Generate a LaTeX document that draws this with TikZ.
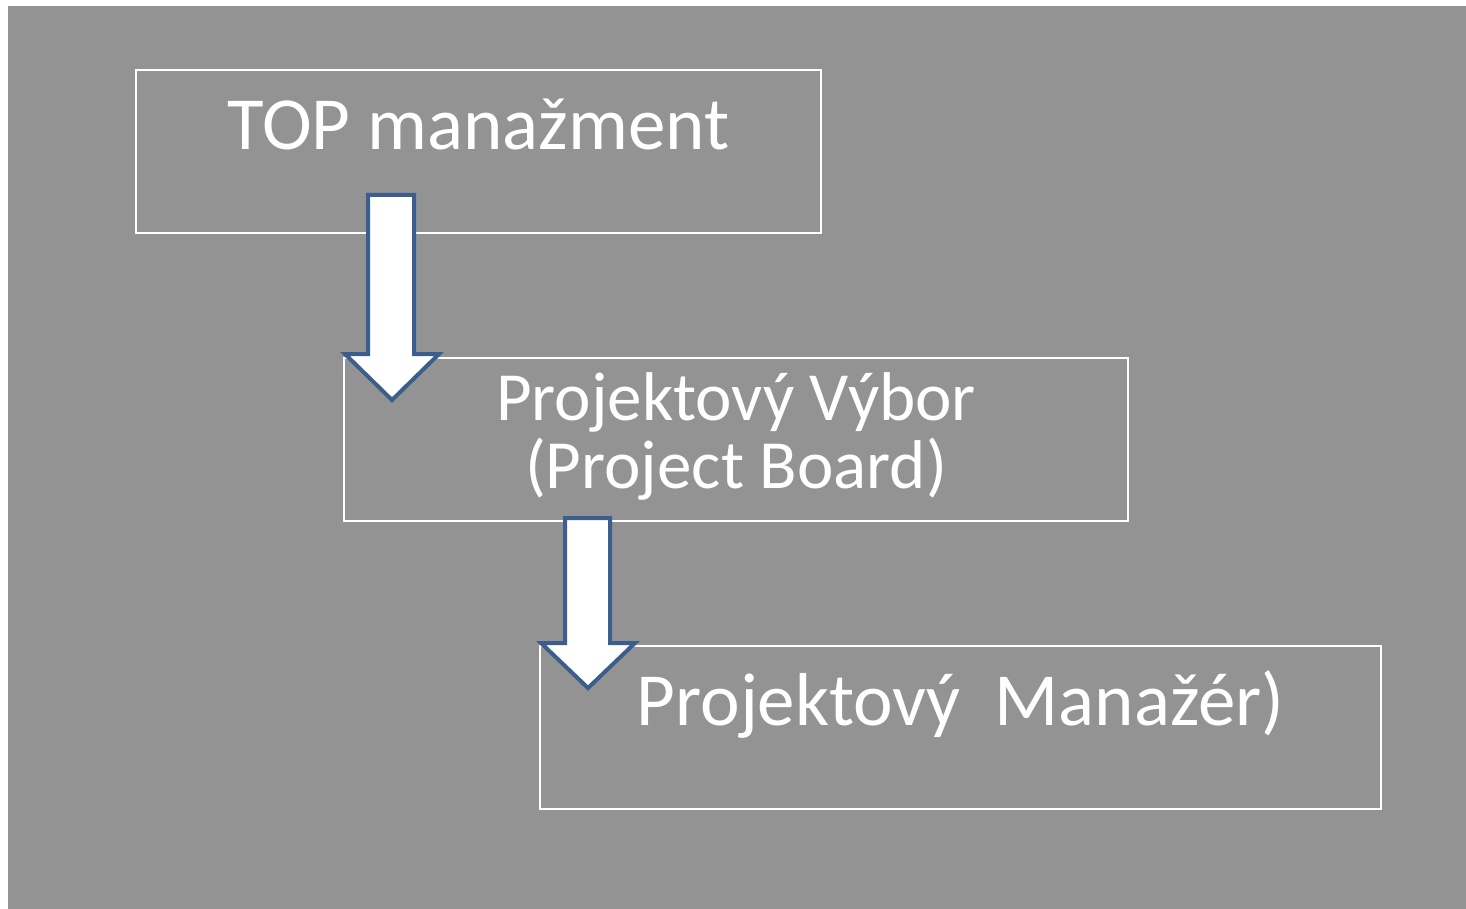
\documentclass[tikz,border=0pt]{standalone}
\usepackage{fontspec}
\setmainfont{Carlito}
\usetikzlibrary{positioning}
\definecolor{slidegray}{RGB}{147,147,147}
\definecolor{arrowblue}{RGB}{59,94,140}

\begin{document}
\begin{tikzpicture}[x=1pt,y=-1pt,
				   box/.style={draw=white, line width=1.5pt, inner sep=0pt, outer sep=0pt, anchor=north west},
				   label text/.style={text=white, inner sep=0pt, anchor=base, align=center},
				   blockarrow/.style={draw=arrowblue, fill=white, line width=4pt}]

\useasboundingbox (0,0) rectangle (1466,909);
\fill[white] (0,0) rectangle (1466,909);
\fill[slidegray] (8,6) rectangle (1466,909);

% boxes
\node[box, minimum width=685pt, minimum height=163pt] (top) at (136,70) {};
\node[box, minimum width=784pt, minimum height=163pt] (board) at (344,358) {};
\node[box, minimum width=841pt, minimum height=163pt] (pm) at (540,646) {};

% texts
\node[label text, font=\fontsize{75}{80}\selectfont] (toptext) at ([yshift=-80pt]top.north) {TOP manažment};
\node[label text, font=\fontsize{69}{68}\selectfont] (boardtext) at ([yshift=-130pt]board.north) {Projektový Výbor\\(Project Board)};
\node[label text, font=\fontsize{75}{80}\selectfont] (pmtext) at ([yshift=-79pt]pm.north) {Projektový\ \ Manažér)};

% arrows
\draw[blockarrow] (368,195) -- (414,195) -- (414,354) -- (439,354) -- (392,400)
	-- (345,354) -- (368,354) -- cycle;
\draw[blockarrow] (565,518) -- (610,518) -- (610,643) -- (635,643) -- (588,688)
	-- (541,643) -- (565,643) -- cycle;

\end{tikzpicture}
\end{document}
